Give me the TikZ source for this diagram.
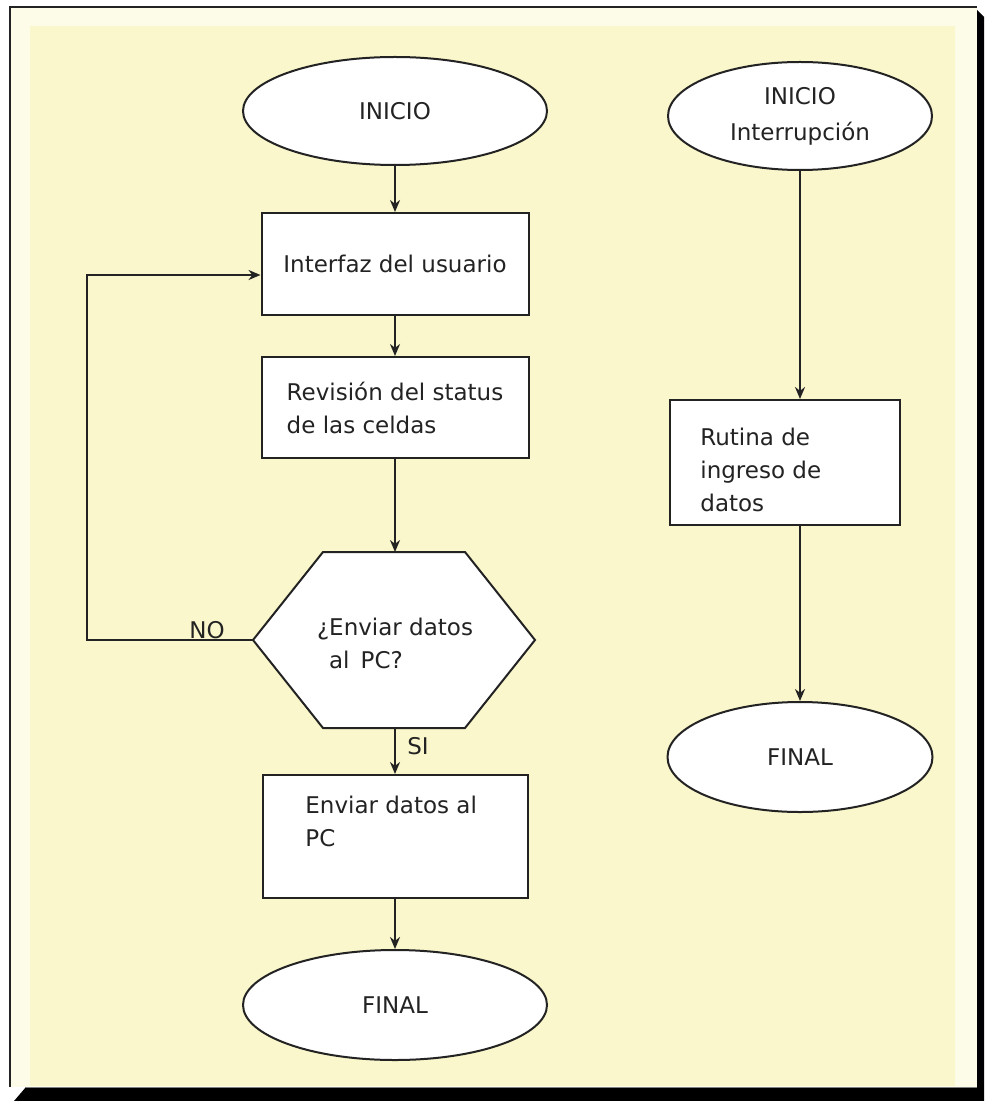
\documentclass[tikz,border=0pt]{standalone}
\usepackage{fontspec}
\setmainfont{DejaVu Sans}
\usetikzlibrary{arrows.meta,shapes.geometric}
\definecolor{bgyel}{RGB}{250,247,204}
\definecolor{rim}{RGB}{253,252,232}
\definecolor{ink}{RGB}{35,35,35}
\begin{document}
\begin{tikzpicture}[x=0.5pt,y=-0.5pt,
  font=\fontsize{11.5}{16.5}\selectfont,
  shapeborder/.style={draw=ink, line width=1pt, fill=white},
  term/.style={ellipse, shapeborder, inner sep=0pt},
  procbox/.style={rectangle, shapeborder, inner sep=0pt},
  conn/.style={draw=ink, line width=1pt, -{Stealth[length=6pt,width=5pt]}},
  lbl/.style={inner sep=0pt, text=ink}]
\useasboundingbox (0,0) rectangle (984,1101);
% panel with shadow
\fill[black] (977,10) -- (984,17) -- (984,1101) -- (14,1101) -- (26,1087) -- (977,1087) -- cycle;
\fill[rim] (10,7) rectangle (977,1087);
\fill[bgyel] (30,26) rectangle (955,1086);
\draw[ink, line width=0.8pt] (10,1087) -- (10,7) -- (977,7);
\draw[gray, line width=0.5pt] (26,1087) -- (977,1087);

% left column
\node[term, minimum width=152pt, minimum height=54pt, text=ink] (ini) at (395,111) {INICIO};
\node[procbox, minimum width=133.5pt, minimum height=51pt, text=ink] (b1) at (395,264) {Interfaz del usuario};
\node[procbox, minimum width=133.5pt, minimum height=50.5pt, align=left, text=ink] (b2) at (395,407.5) {Revisión del status\\de las celdas};

\coordinate (hexW) at (253,640);
\coordinate (hexN) at (395,552);
\coordinate (hexS) at (395,728);
\filldraw[shapeborder] (hexW) -- (323,552) -- (465,552) -- (535,640) -- (465,728) -- (323,728) -- cycle;
\node[lbl, align=left] (hex) at (395,643) {¿Enviar datos\\\hspace*{6pt}al\ \,PC?};

\node[procbox, minimum width=132.5pt, minimum height=61.5pt] (b3) at (395,836.5) {};
\node[lbl, align=left, anchor=north west] (b3t) at (305,796) {Enviar datos al\\PC};

\node[term, minimum width=152pt, minimum height=55pt, text=ink] (fin) at (395,1005) {FINAL};

\node[lbl] (no) at (207,630) {NO};
\node[lbl] (si) at (418,746) {SI};

\coordinate (loopc) at (87,275);
\draw[conn] (ini) -- (b1);
\draw[conn] (b1) -- (b2);
\draw[conn] (b2.south) -- (hexN);
\draw[conn] (hexS) -- (b3.north);
\draw[conn] (b3) -- (fin);
\draw[conn] (hexW) -| (loopc) -- ([yshift=-5.5pt]b1.west);

% right column
\node[term, minimum width=132pt, minimum height=54pt, align=center, text=ink,
  font=\fontsize{11.5}{18}\selectfont] (ini2) at (800,116) {INICIO\\Interrupción};
\node[procbox, minimum width=115pt, minimum height=62.5pt] (rut) at (785,462.5) {};
\node[lbl, align=left, anchor=north west] (rutt) at (700,428) {Rutina de\\ingreso de\\datos};
\node[term, minimum width=132.5pt, minimum height=55pt, text=ink] (fin2) at (800,757) {FINAL};

\draw[conn] (ini2) -- (ini2 |- rut.north);
\draw[conn] (rut.south -| fin2) -- (fin2);
\end{tikzpicture}
\end{document}
